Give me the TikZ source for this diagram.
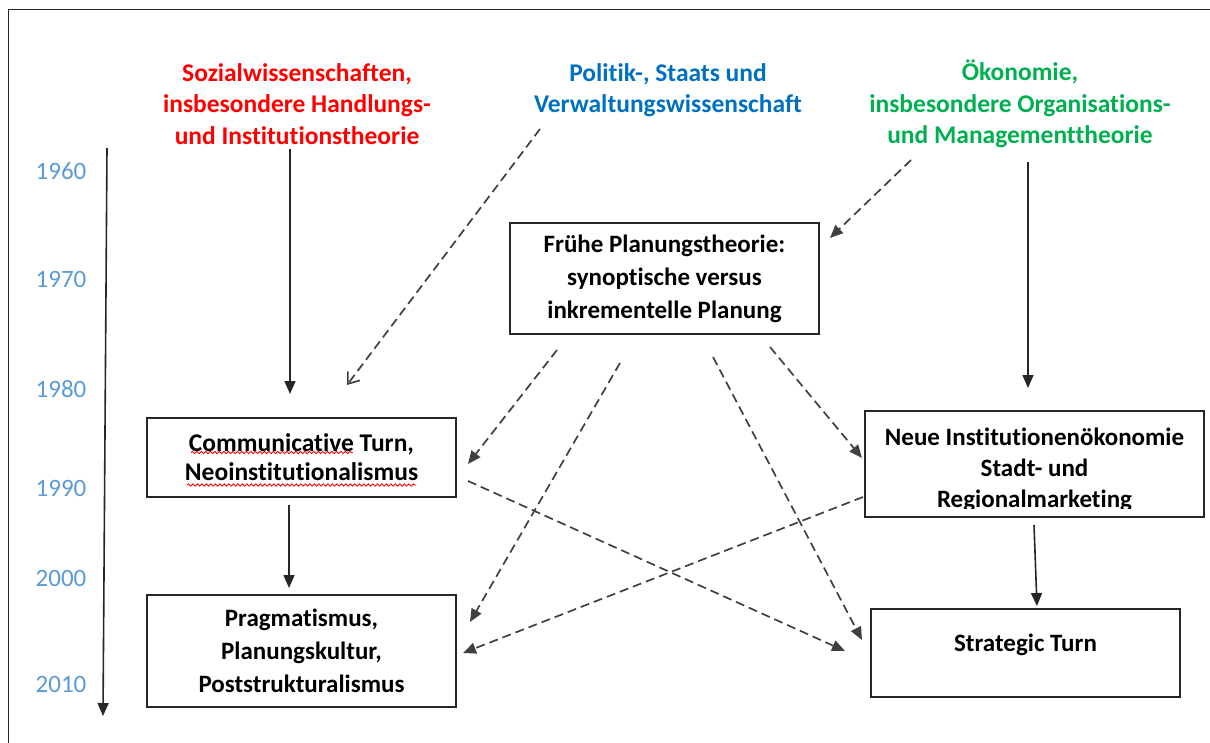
\documentclass[tikz,border=0pt]{standalone}
\usepackage{fontspec}
\setmainfont{Carlito}[Ligatures=NoCommon]
\usetikzlibrary{arrows.meta,decorations.pathmorphing}

\definecolor{yearblue}{RGB}{91,155,213}
\definecolor{titlered}{RGB}{255,0,0}
\definecolor{titleblue}{RGB}{0,112,192}
\definecolor{titlegreen}{RGB}{0,176,80}
\definecolor{linegray}{RGB}{38,38,38}
\definecolor{dashgray}{RGB}{64,64,64}

\begin{document}
\begin{tikzpicture}[x=1pt,y=-1pt,
  title/.style={font=\fontsize{25.5}{31.5}\selectfont\bfseries, align=center, inner sep=0pt},
  year/.style={font=\fontsize{25}{28}\selectfont, text=yearblue, inner sep=0pt},
  box/.style={draw=linegray, line width=1.6pt, inner sep=0pt, align=center,
              font=\fontsize{25}{33}\selectfont\bfseries},
  flow/.style={draw=linegray, line width=1.6pt, -{Triangle[length=13pt,width=11pt]}},
  link/.style={draw=dashgray, line width=1.7pt, dash pattern=on 9pt off 5pt,
               -{Triangle[length=13pt,width=11pt]}},
  openlink/.style={draw=dashgray, line width=1.7pt, dash pattern=on 9pt off 5pt,
               -{Straight Barb[length=10pt,width=15pt,line width=1.7pt]}},
  spell/.style={draw=red, line width=0.8pt, decorate,
               decoration={snake, amplitude=1.2pt, segment length=4.5pt}},
]
\useasboundingbox (0,0) rectangle (1210,743);

% outer frame (top and left edges)
\draw[linegray, line width=1.4pt] (8.5,743) -- (8.5,9.5) -- (1210,9.5);

% time axis with decades
\coordinate (axistop) at (107,148);
\coordinate (axisend) at (103,716);
\draw[flow] (axistop) -- (axisend);
\node[year] (y1960) at (61,171) {1960};
\node[year] (y1970) at (61,279) {1970};
\node[year] (y1980) at (61,389) {1980};
\node[year] (y1990) at (61,488) {1990};
\node[year] (y2000) at (61,578) {2000};
\node[year] (y2010) at (61,684) {2010};

% disciplines
\node[title, text=titlered] (sozial) at (297,104)
  {Sozialwissenschaften,\\insbesondere Handlungs-\\und Institutionstheorie};
\node[title, text=titleblue] (politik) at (668,90)
  {Politik-, Staats und\\Verwaltungswissenschaft};
\node[title, text=titlegreen] (oekonomie) at (1020,104)
  {Ökonomie,\\insbesondere Organisations-\\und Managementtheorie};

% theory boxes
\node[box, minimum width=309pt, minimum height=111pt] (fruehe) at (664.5,278.5)
  {Frühe Planungstheorie:\\synoptische versus\\inkrementelle Planung};
\node[box, minimum width=309pt, minimum height=79pt,
      font=\fontsize{25.5}{29}\selectfont\bfseries] (comm) at (301.5,457.5)
  {Communicative Turn,\\Neoinstitutionalismus};
\node[box, minimum width=339pt, minimum height=106pt] (neue) at (1034.5,464) {};
\begin{scope}
  % last line is cut off just below its baseline
  \clip (865,411) rectangle (1204,508.5);
  \node[box, draw=none, font=\fontsize{25}{31}\selectfont\bfseries] (neuetext) at (1034.5,469.5)
    {Neue Institutionenökonomie\\Stadt- und\\Regionalmarketing};
\end{scope}
\node[box, minimum width=309pt, minimum height=112pt] (prag) at (301.5,651)
  {Pragmatismus,\\Planungskultur,\\Poststrukturalismus};
\node[box, minimum width=309pt, minimum height=88pt] (strat) at (1025.5,653) {};
\node[box, draw=none] (strattext) at (1025.5,645) {Strategic Turn};

% spell-check marks
\draw[spell] (191,452.5) -- (353,452.5);
\draw[spell] (187,485) -- (416,485);

% connector end points
\coordinate (sozS) at (290,149);
\coordinate (sozE) at (290,394);
\coordinate (oekS) at (1028,162);
\coordinate (oekE) at (1028,388);
\coordinate (commS) at (289,505);
\coordinate (commE) at (289,588);
\coordinate (neueS) at (1034,525);
\coordinate (neueE) at (1037,606);
\coordinate (polS) at (540,129);
\coordinate (polE) at (347,385);
\coordinate (oekD) at (911,160);
\coordinate (fruE) at (830,238);
\coordinate (fruA) at (557,350);
\coordinate (fruB) at (620,363);
\coordinate (fruC) at (713,357);
\coordinate (fruD) at (770,347);
\coordinate (commIn) at (468,464);
\coordinate (pragIn) at (470,622);
\coordinate (stratIn) at (862,640);
\coordinate (neueIn) at (862,458);
\coordinate (commOut) at (468,481);
\coordinate (stratIn2) at (845,651);
\coordinate (neueOut) at (863,497);
\coordinate (pragIn2) at (463,653);

% solid lines of descent
\draw[flow] (sozS) -- (sozE);
\draw[flow] (oekS) -- (oekE);
\draw[flow] (commS) -- (commE);
\draw[flow] (neueS) -- (neueE);

% dashed influences
\draw[openlink] (polS) -- (polE);
\draw[link] (oekD) -- (fruE);
\draw[link] (fruA) -- (commIn);
\draw[link] (fruB) -- (pragIn);
\draw[link] (fruC) -- (stratIn);
\draw[link] (fruD) -- (neueIn);
\draw[link] (commOut) -- (stratIn2);
\draw[link] (neueOut) -- (pragIn2);
\end{tikzpicture}
\end{document}
